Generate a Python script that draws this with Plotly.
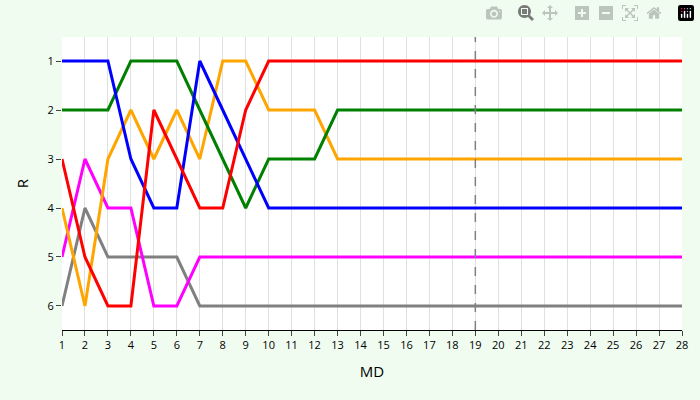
import plotly.graph_objects as go

md = list(range(1, 29))
red = [3, 5, 6, 6, 2, 3, 4, 4, 2, 1] + [1] * 18
blue = [1, 1, 1, 3, 4, 4, 1, 2, 3, 4] + [4] * 18
green = [2, 2, 2, 1, 1, 1, 2, 3, 4, 3, 3, 3, 2] + [2] * 15
orange = [4, 6, 3, 2, 3, 2, 3, 1, 1, 2, 2, 2, 3] + [3] * 15
magenta = [5, 3, 4, 4, 6, 6, 5] + [5] * 21
gray = [6, 4, 5, 5, 5, 5, 6] + [6] * 21

series = [("gray", gray), ("magenta", magenta), ("orange", orange),
          ("green", green), ("blue", blue), ("red", red)]

fig = go.Figure()
for color, vals in series:
    fig.add_trace(go.Scatter(x=md, y=vals, mode="lines",
                             line=dict(color=color, width=3), showlegend=False))

fig.add_vline(x=19, line=dict(color="gray", width=1.5, dash="dash"))

fig.update_layout(
    width=700, height=400,
    paper_bgcolor="#f0fcf0", plot_bgcolor="white",
    margin=dict(l=62, r=15, t=37, b=70),
    font=dict(family="Open Sans", size=11, color="black"),
    xaxis=dict(title="MD", range=[1, 28], tickvals=md, showgrid=True,
               gridcolor="#e0e0e0", zeroline=False, showline=True,
               linecolor="black", ticks="outside", ticklen=5, title_font_size=15),
    yaxis=dict(title="R", range=[6.49, 0.51], tickvals=[1, 2, 3, 4, 5, 6],
               showgrid=False, zeroline=False, ticks="outside", ticklen=5,
               title_font_size=15),
)
fig.write_html("out.html", post_script="document.body.style.margin='0';document.body.style.overflow='hidden';")
